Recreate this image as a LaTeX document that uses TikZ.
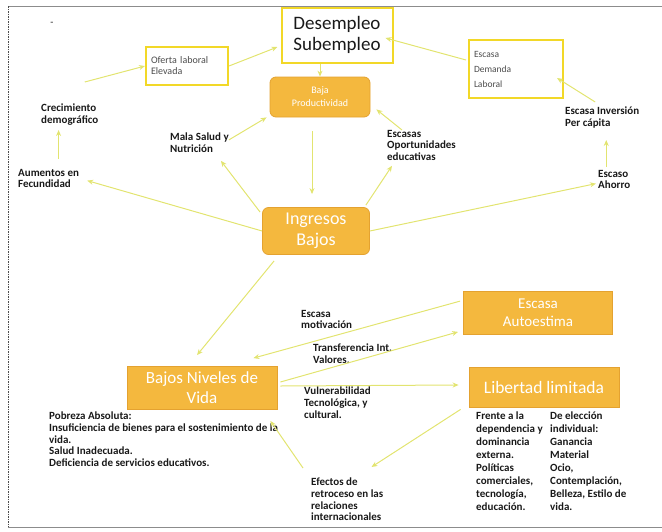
\documentclass[tikz,border=0pt]{standalone}
\usepackage{fontspec}
\setmainfont{Carlito}
\usetikzlibrary{arrows.meta,calc}
\definecolor{orangefill}{RGB}{244,184,62}
\definecolor{orangedraw}{RGB}{228,162,48}
\definecolor{yborder}{RGB}{242,216,40}
\definecolor{arrowc}{RGB}{226,228,112}
\definecolor{txt}{RGB}{25,25,25}
\begin{document}
\begin{tikzpicture}[x=1pt,y=-1pt,
  obox/.style={fill=orangefill, draw=orangedraw, line width=0.8pt, text=white, align=center, inner sep=0pt},
  rbox/.style={obox, rounded corners=6pt},
  wbox/.style={draw=yborder, line width=2pt, fill=white, inner sep=0pt},
  lbl/.style={align=left, anchor=north west, inner sep=0pt, text=txt, font=\fontsize{11}{11.6}\selectfont\bfseries},
  con/.style={draw=arrowc, line width=1pt, -{Stealth[length=6pt,width=5pt]}}]
\path[use as bounding box] (0,0) rectangle (662,531);
% frame
\draw[black!45, line width=0.9pt] (8,6) -- (662,6);
\draw[black!45, line width=0.9pt] (8,527) -- (662,527);
\draw[black!70, line width=1pt, dash pattern=on 1.5pt off 1pt] (8,6) -- (8,527);
\node[inner sep=0pt, text=txt] (dash) at (52,24) {-};

% boxes
\node[wbox, minimum width=111, minimum height=55, align=center, font=\fontsize{19}{21}\selectfont, text=txt] (des) at (337,35) {Desempleo\\Subempleo};
\node[wbox, minimum width=82, minimum height=38, text width=72, align=left, font=\fontsize{10}{11}\selectfont, text=black!70] (ofe) at (187,66) {Oferta laboral\\Elevada};
\node[wbox, minimum width=94, minimum height=58, text width=84, align=left, font=\fontsize{9.5}{15}\selectfont, text=black!70] (dem) at (516,69) {Escasa\\Demanda\\Laboral};
\node[rbox, minimum width=100, minimum height=40, font=\fontsize{10}{13}\selectfont] (baj) at (320,97) {Baja\\Productividad};
\node[rbox, minimum width=107, minimum height=47, font=\fontsize{18}{21}\selectfont] (ing) at (316,231) {Ingresos\\Bajos};
\node[obox, minimum width=150, minimum height=43, font=\fontsize{17}{20}\selectfont] (bnv) at (202,388) {Bajos Niveles de\\Vida};
\node[obox, minimum width=149, minimum height=43, font=\fontsize{15}{18}\selectfont] (aut) at (538,313) {Escasa\\Autoestima};
\node[obox, minimum width=150, minimum height=40, font=\fontsize{17.5}{20}\selectfont] (lib) at (544,387) {Libertad limitada};

% labels
\node[lbl] (cre) at (41,104) {Crecimiento\\demográfico};
\node[lbl] (aum) at (18,169) {Aumentos en\\Fecundidad};
\node[lbl] (mal) at (170,133) {Mala Salud y\\Nutrición};
\node[lbl] (esc) at (387,130) {Escasas\\Oportunidades\\educativas};
\node[lbl] (inv) at (565,107) {Escasa Inversión\\Per cápita};
\node[lbl] (aho) at (598,170) {Escaso\\Ahorro};
\node[lbl] (mot) at (301,310) {Escasa\\motivación};
\node[lbl] (tra) at (313,344) {Transferencia Int.\\Valores.};
\node[lbl] (vul) at (304,387) {Vulnerabilidad\\Tecnológica, y\\cultural.};
\node[lbl] (efe) at (311,478) {Efectos de\\retroceso en las\\relaciones\\internacionales};
\node[lbl] (pob) at (49,412) {Pobreza Absoluta:\\Insuficiencia de bienes para el sostenimiento de la\\vida.\\Salud Inadecuada.\\Deficiencia de servicios educativos.};
\node[lbl, font=\fontsize{11}{13}\selectfont\bfseries] (fre) at (476,412) {Frente a la\\dependencia y\\dominancia\\externa.\\Políticas\\comerciales,\\tecnología,\\educación.};
\node[lbl, font=\fontsize{11}{13}\selectfont\bfseries] (ele) at (550,412) {De elección\\individual:\\Ganancia\\Material\\Ocio,\\Contemplación,\\Belleza, Estilo de\\vida.};

% connectors
\draw[con] ($(cre.north)+(15,-22)$) -- (ofe.west);
\draw[con] (ofe.east) -- ($(des.west)+(-3,12)$);
\draw[con] ($(dem.west)+(-2,-9)$) -- ($(des.east)+(-8,3)$);
\draw[con] ($(inv.north)+(-7,-5)$) -- ($(dem.east)+(-7,9)$);
\draw[con] ($(aho.north)+(-8,-3)$) -- ($(aho.north)+(-8,-30)$);
\draw[con] (ing.east) -- ($(aho.west)+(-2,4)$);
\draw[con] (ing.west) -- ($(aum.east)+(8,2)$);
\draw[con] ($(aum.north)+(10,-10)$) -- ($(aum.north)+(10,-39)$);
\draw[con] ($(ing.north west)+(-2,5)$) -- ($(mal.south east)+(-8,8)$);
\draw[con] ($(mal.east)+(0,-3)$) -- ($(baj.south west)+(-3,0)$);
\draw[con] ($(esc.north west)+(15,0)$) -- ($(baj.south east)+(6,-8)$);
\draw[con] ($(ing.north east)+(-4,-2)$) -- ($(esc.south west)+(5,5)$);
\draw[con] (des.south -| baj.north) -- (baj.north);
\draw[con] ($(baj.south)+(-8,14)$) -- ($(ing.north)+(-4,-13)$);
\draw[con] ($(ing.south west)+(12,6)$) -- ($(bnv.north)+(-5,-11)$);
\draw[con] ($(aut.north west)+(-3,10)$) -- ($(bnv.north east)+(-24,-8)$);
\draw[con] ($(bnv.east)+(3,-6)$) -- ($(aut.south west)+(-5,-3)$);
\draw[con] ($(bnv.east)+(3,-2)$) -- ($(lib.west)+(-10,-2)$);
\draw[con] ($(lib.south west)+(-8,2)$) -- ($(efe.north east)+(-12,-11)$);
\draw[con] ($(efe.north west)+(-8,-10)$) -- ($(bnv.south east)+(-7,11)$);
\end{tikzpicture}
\end{document}
